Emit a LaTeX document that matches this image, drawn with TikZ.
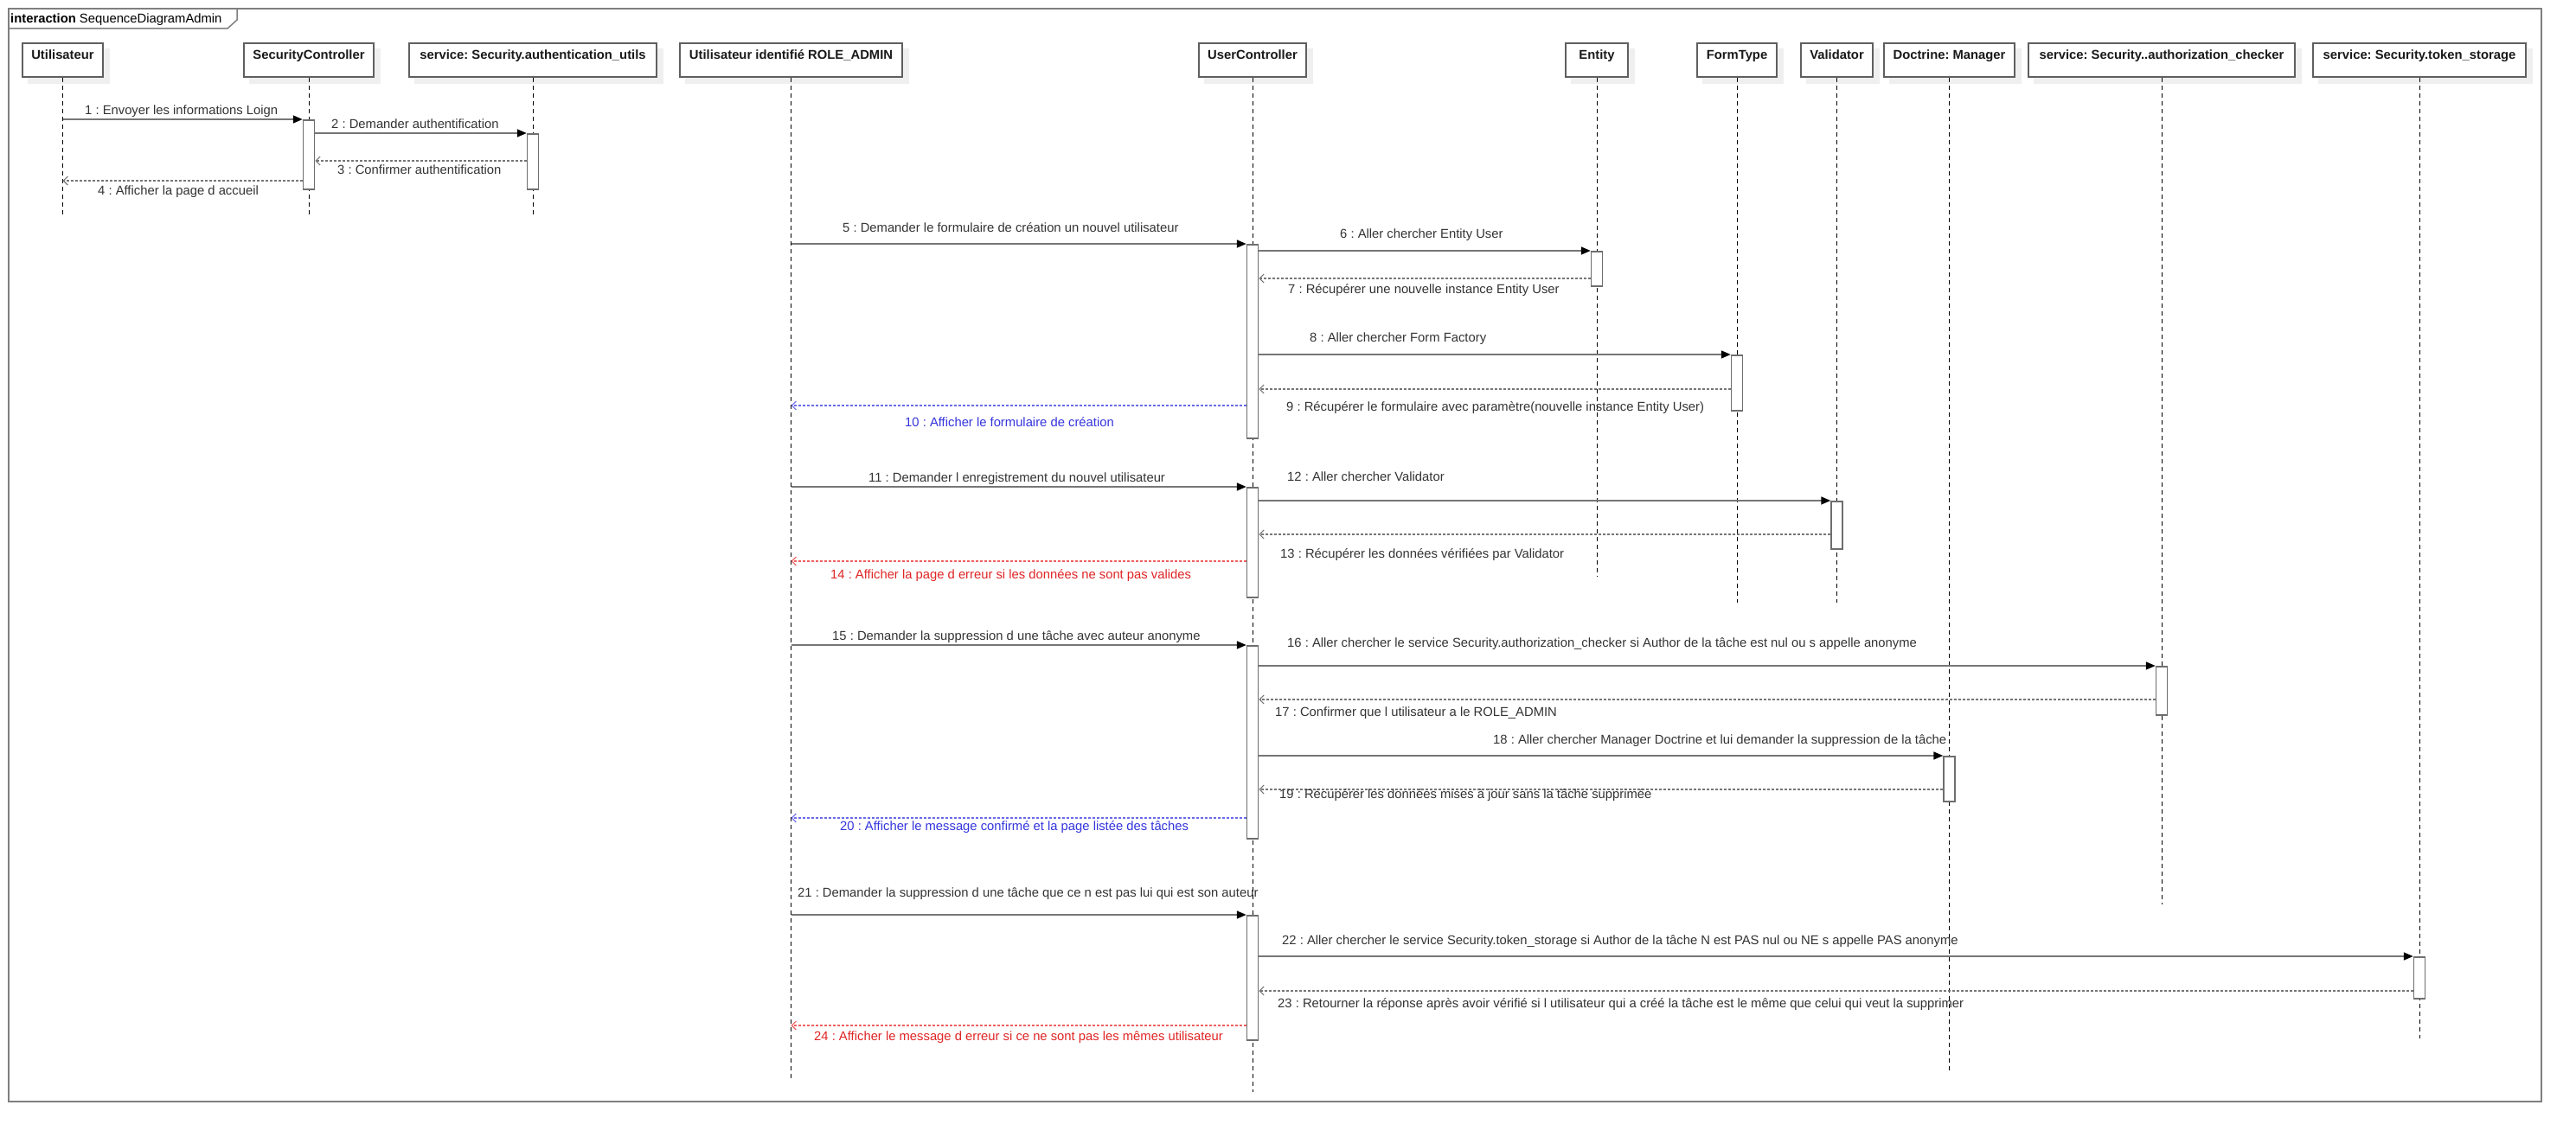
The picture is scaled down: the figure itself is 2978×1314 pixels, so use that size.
\documentclass[tikz,border=0pt]{standalone}
\usepackage{fontspec}
\setmainfont{Liberation Sans}
\usetikzlibrary{arrows.meta}
\pgfdeclarelayer{background}
\pgfsetlayers{background,main}
\frenchspacing
\definecolor{msgline}{HTML}{767676}
\definecolor{frameline}{HTML}{7F7F7F}
\definecolor{headline}{HTML}{5F5F5F}
\definecolor{actline}{HTML}{6E6E6E}
\definecolor{lbltext}{HTML}{333333}
\definecolor{shadowgray}{HTML}{EFEFEF}
\definecolor{bluetext}{HTML}{3535DD}
\definecolor{blueline}{HTML}{6A6AEA}
\definecolor{redtext}{HTML}{E02525}
\definecolor{redline}{HTML}{EE6060}
\begin{document}
\begin{tikzpicture}[x=1pt,y=-1pt,
  every node/.style={font=\fontsize{14.8}{17}\selectfont},
  head/.style={draw=headline, line width=1.6pt, fill=white,
    font=\fontsize{14.8}{17}\selectfont\bfseries, text=black!90,
    inner xsep=0pt, inner ysep=0pt, text height=19pt, text depth=20pt, anchor=base},
  life/.style={black, line width=1pt, dash pattern=on 5pt off 4pt},
  act/.style={draw=actline, fill=white, line width=1.5pt, minimum width=13pt,
    inner sep=0pt, anchor=north},
  call/.style={msgline, line width=1.6pt, -{Triangle[length=11pt,width=9pt,color=black]}},
  ret/.style={msgline, line width=1.5pt, dash pattern=on 3pt off 2pt,
    -{Straight Barb[length=5pt,width=10pt,line width=1.2pt]}},
  retblue/.style={ret, blueline},
  retred/.style={ret, redline},
  lbl/.style={anchor=base west, text=lbltext, inner sep=0pt},
  lblblue/.style={lbl, text=bluetext},
  lblred/.style={lbl, text=redtext},
  frm/.style={frameline, line width=2pt}
]
\useasboundingbox (0,0) rectangle (2978,1314);

% frame
\draw[frm] (10,10) rectangle (2938,1274);
\draw[frameline, line width=1.5pt] (10,33) -- (263,33) -- (274,23) -- (274,10);
\node[anchor=base west, inner sep=0pt] (title) at (12,27) {\textbf{interaction} SequenceDiagramAdmin};

% heads
\node[head, minimum width=93pt]  (u)  at (72.5,69)  {Utilisateur};
\node[head, minimum width=150pt] (sc) at (357,69)   {SecurityController};
\node[head, minimum width=286pt] (au) at (616,69)   {service: Security.authentication\_utils};
\node[head, minimum width=257pt] (ra) at (914.5,69) {Utilisateur identifié ROLE\_ADMIN};
\node[head, minimum width=124pt] (uc) at (1448,69)  {UserController};
\node[head, minimum width=72pt]  (en) at (1846,69)  {Entity};
\node[head, minimum width=92pt]  (ft) at (2008,69)  {FormType};
\node[head, minimum width=83pt]  (va) at (2123.5,69) {Validator};
\node[head, minimum width=151pt] (dm) at (2253.5,69) {Doctrine: Manager};
\node[head, minimum width=308pt] (ac) at (2499,69)  {service: Security..authorization\_checker};
\node[head, minimum width=246pt] (ts) at (2797,69)  {service: Security.token\_storage};

% background and head shadows
\begin{pgfonlayer}{background}
\fill[white] (0,0) rectangle (2978,1314);
\foreach \h in {u,sc,au,ra,uc,en,ft,va,dm,ac,ts}
  {\fill[shadowgray] ([shift={(7,7)}]\h.south west) rectangle ([shift={(7,7)}]\h.north east);}
\end{pgfonlayer}

% lifeline ends
\coordinate (uE)  at (u.south  |- 0,248);
\coordinate (scE) at (sc.south |- 0,248);
\coordinate (auE) at (au.south |- 0,248);
\coordinate (raE) at (ra.south |- 0,1249);
\coordinate (ucE) at (uc.south |- 0,1263);
\coordinate (enE) at (en.south |- 0,667);
\coordinate (ftE) at (ft.south |- 0,697);
\coordinate (vaE) at (va.south |- 0,697);
\coordinate (dmE) at (dm.south |- 0,1238);
\coordinate (acE) at (ac.south |- 0,1046);
\coordinate (tsE) at (ts.south |- 0,1201);
\foreach \h in {u,sc,au,ra,uc,en,ft,va,dm,ac,ts} {\draw[life] (\h.south) -- (\h E);}

% activations
\node[act, minimum height=80pt]  (a1)  at (sc.south |- 0,138) {};
\node[act, minimum height=64pt]  (a2)  at (au.south |- 0,154) {};
\node[act, minimum height=224pt] (a3)  at (uc.south |- 0,282) {};
\node[act, minimum height=40pt]  (a4)  at (en.south |- 0,290) {};
\node[act, minimum height=64pt]  (a5)  at (ft.south |- 0,410) {};
\node[act, minimum height=127pt] (a6)  at (uc.south |- 0,563) {};
\node[act, minimum height=55pt]  (a7)  at (va.south |- 0,579) {};
\node[act, minimum height=223pt] (a8)  at (uc.south |- 0,746) {};
\node[act, minimum height=56pt]  (a9)  at (ac.south |- 0,770) {};
\node[act, minimum height=52pt]  (a10) at (dm.south |- 0,874) {};
\node[act, minimum height=144pt] (a11) at (uc.south |- 0,1058) {};
\node[act, minimum height=48pt]  (a12) at (ts.south |- 0,1106) {};

% messages
\draw[call] (u.south |- a1.north) -- (a1.north west);
\draw[call] (a1.east |- a2.north) -- (a2.north west);
\draw[ret] (a2.west |- 0,186) -- (a1.east |- 0,186);
\draw[ret] (a1.west |- 0,209) -- (u.south |- 0,209);
\draw[call] (ra.south |- a3.north) -- (a3.north west);
\draw[call] (a3.east |- a4.north) -- (a4.north west);
\draw[ret] (a4.west |- 0,322) -- (a3.east |- 0,322);
\draw[call] (a3.east |- a5.north) -- (a5.north west);
\draw[ret] (a5.west |- 0,450) -- (a3.east |- 0,450);
\draw[retblue] (a3.west |- 0,469) -- (ra.south |- 0,469);
\draw[call] (ra.south |- a6.north) -- (a6.north west);
\draw[call] (a6.east |- a7.north) -- (a7.north west);
\draw[ret] (a7.west |- 0,618) -- (a6.east |- 0,618);
\draw[retred] (a6.west |- 0,649) -- (ra.south |- 0,649);
\draw[call] (ra.south |- a8.north) -- (a8.north west);
\draw[call] (a8.east |- a9.north) -- (a9.north west);
\draw[ret] (a9.west |- 0,809) -- (a8.east |- 0,809);
\draw[call] (a8.east |- a10.north) -- (a10.north west);
\draw[ret] (a10.west |- 0,913) -- (a8.east |- 0,913);
\draw[retblue] (a8.west |- 0,946) -- (ra.south |- 0,946);
\draw[call] (ra.south |- a11.north) -- (a11.north west);
\draw[call] (a11.east |- a12.north) -- (a12.north west);
\draw[ret] (a12.west |- 0,1146) -- (a11.east |- 0,1146);
\draw[retred] (a11.west |- 0,1186) -- (ra.south |- 0,1186);

% labels
\node[lbl] (l1)  at (98,132)   {1 : Envoyer les informations Loign};
\node[lbl] (l2)  at (383,148)  {2 : Demander authentification};
\node[lbl] (l3)  at (390,201)  {3 : Confirmer authentification};
\node[lbl] (l4)  at (113,225)  {4 : Afficher la page d accueil};
\node[lbl] (l5)  at (974,268)  {5 : Demander le formulaire de création un nouvel utilisateur};
\node[lbl] (l6)  at (1549,275) {6 : Aller chercher Entity User};
\node[lbl] (l7)  at (1489,339) {7 : Récupérer une nouvelle instance Entity User};
\node[lbl] (l8)  at (1514,395) {8 : Aller chercher Form Factory};
\node[lbl] (l9)  at (1487,475) {9 : Récupérer le formulaire avec paramètre(nouvelle instance Entity User)};
\node[lblblue] (l10) at (1046,493) {10 : Afficher le formulaire de création};
\node[lbl] (l11) at (1004,557) {11 : Demander l enregistrement du nouvel utilisateur};
\node[lbl] (l12) at (1488,556) {12 : Aller chercher Validator};
\node[lbl] (l13) at (1480,645) {13 : Récupérer les données vérifiées par Validator};
\node[lblred] (l14) at (960,669) {14 : Afficher la page d erreur si les données ne sont pas valides};
\node[lbl] (l15) at (962,740)  {15 : Demander la suppression d une tâche avec auteur anonyme};
\node[lbl] (l16) at (1488,748) {16 : Aller chercher le service Security.authorization\_checker si Author de la tâche est nul ou s appelle anonyme};
\node[lbl] (l17) at (1474,828) {17 : Confirmer que l utilisateur a le ROLE\_ADMIN};
\node[lbl] (l18) at (1726,860) {18 : Aller chercher Manager Doctrine et lui demander la suppression de la tâche};
\node[lbl] (l19) at (1479,923) {19 : Récupérer les données mises à jour sans la tâche supprimée};
\node[lblblue] (l20) at (971,960) {20 : Afficher le message confirmé et la page listée des tâches};
\node[lbl] (l21) at (922,1037) {21 : Demander la suppression d une tâche que ce n est pas lui qui est son auteur};
\node[lbl] (l22) at (1482,1092) {22 : Aller chercher le service Security.token\_storage si Author de la tâche N est PAS nul ou NE s appelle PAS anonyme};
\node[lbl] (l23) at (1477,1165) {23 : Retourner la réponse après avoir vérifié si l utilisateur qui a créé la tâche est le même que celui qui veut la supprimer};
\node[lblred] (l24) at (941,1203) {24 : Afficher le message d erreur si ce ne sont pas les mêmes utilisateur};
\end{tikzpicture}
\end{document}
